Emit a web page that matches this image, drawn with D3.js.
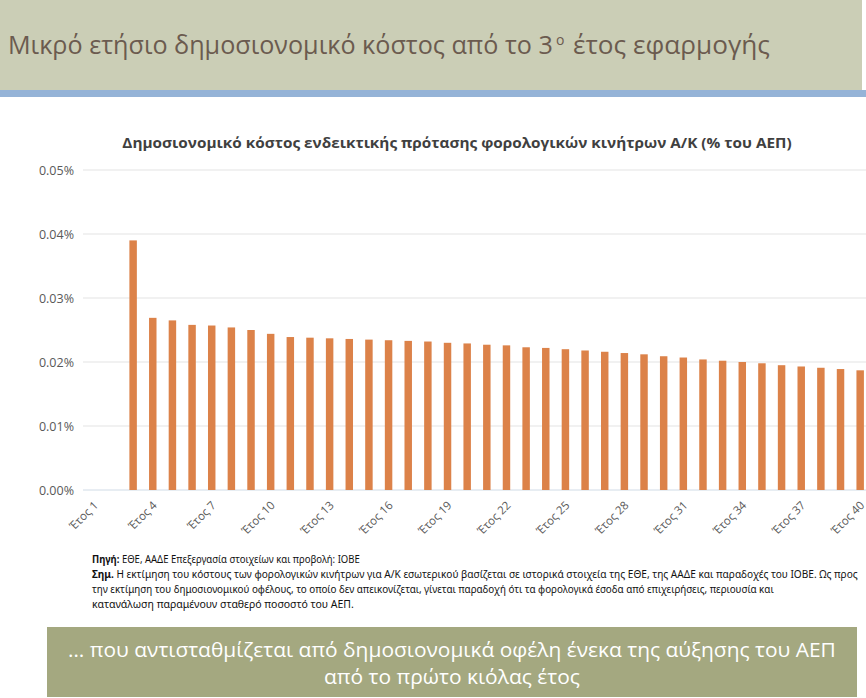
<!DOCTYPE html>
<html><head><meta charset="utf-8">
<script src="https://cdn.jsdelivr.net/npm/d3@7"></script>
<style>body{margin:0;background:#fff;overflow:hidden}svg{display:block}</style>
</head><body>
<svg id="c" width="866" height="698"></svg>
<script>
const years = d3.range(1, 41);
const categories = years.map(y => "Έτος " + y);
const values = [0, 0, 0.0390, 0.0269, 0.0265, 0.0258, 0.0257, 0.0254, 0.0250, 0.0244,
  0.0239, 0.0238, 0.0237, 0.0236, 0.0235, 0.0234, 0.0233, 0.0232, 0.0230, 0.0229,
  0.0227, 0.0226, 0.0223, 0.0222, 0.0220, 0.0218, 0.0216, 0.0214, 0.0212, 0.0209,
  0.0207, 0.0204, 0.0202, 0.0200, 0.0198, 0.0195, 0.0193, 0.0191, 0.0189, 0.0187];
const yTicks = [0, 0.01, 0.02, 0.03, 0.04, 0.05];
const labelEvery = 3;

const svg = d3.select("#c");

// horizontally fit a text to a target width (scales around its x anchor)
function fit(sel, target) {
  const w = sel.node().getComputedTextLength();
  const x0 = +sel.attr("x");
  const k = target / w;
  sel.attr("transform", `translate(${x0},0) scale(${k},1) translate(${-x0},0)`);
  return sel;
}

// header
svg.append("rect").attr("x",0).attr("y",0).attr("width",862).attr("height",90).attr("fill","#cbceb6");
svg.append("rect").attr("x",0).attr("y",90).attr("width",866).attr("height",7).attr("fill","#95b3d7");
const hg = svg.append("g").attr("font-family","'Open Sans', 'Noto Sans', sans-serif").attr("fill","#6b5b4f");
fit(hg.append("text").attr("x",8).attr("y",54).attr("font-size",26)
  .text("Μικρό ετήσιο δημοσιονομικό κόστος από το 3"), 545);
hg.append("text").attr("x",556).attr("y",45).attr("font-size",14).text("ο");
fit(hg.append("text").attr("x",573).attr("y",54).attr("font-size",26)
  .text("έτος εφαρμογής"), 197);

// chart title
fit(svg.append("text").attr("x",457).attr("y",148).attr("text-anchor","middle")
  .attr("font-family","'Open Sans', sans-serif").attr("font-weight","bold").attr("font-size",14.5)
  .attr("fill","#404040")
  .text("Δημοσιονομικό κόστος ενδεικτικής πρότασης φορολογικών κινήτρων Α/Κ (% του ΑΕΠ)"), 670);

const x = d3.scaleBand().domain(categories).range([84, 870]).paddingInner(0.62).paddingOuter(0.31);
const y = d3.scaleLinear().domain([0, 0.05]).range([490, 170]);

// gridlines
svg.append("g").selectAll("line").data(yTicks).join("line")
  .attr("x1",83).attr("x2",866).attr("y1",d=>y(d)).attr("y2",d=>y(d))
  .attr("stroke",(d)=> d===0 ? "#d0dbe6" : "#e3e3e3").attr("stroke-width",1);

// y axis
const yAxis = svg.append("g").attr("transform","translate(74,0)")
  .call(d3.axisLeft(y).tickValues(yTicks).tickFormat(d => d.toFixed(2) + "%").tickSize(0).tickPadding(0));
yAxis.select(".domain").remove();
yAxis.selectAll("text").attr("font-family","'Open Sans', sans-serif").attr("font-size",12.5).attr("fill","#595959");

// bars
svg.append("g").selectAll("rect").data(values).join("rect")
  .attr("x",(d,i)=>x(categories[i])).attr("width",x.bandwidth())
  .attr("y",d=>y(d)).attr("height",d=>y(0)-y(d)).attr("fill","#dc8249");

// x axis
const xAxis = svg.append("g").attr("transform","translate(0,490)")
  .call(d3.axisBottom(x).tickValues(categories.filter((c,i)=> i % labelEvery === 0)).tickSize(0).tickPadding(0));
xAxis.select(".domain").remove();
xAxis.selectAll("text").attr("font-family","'Open Sans', sans-serif").attr("font-size",11.5).attr("fill","#595959")
  .attr("text-anchor","end").attr("dy",0).attr("y",0)
  .attr("transform","translate(5,16) rotate(-45)");

// footnote
const fn = svg.append("g").attr("font-family","'Liberation Sans Narrow', 'Noto Sans', sans-serif").attr("font-size",10.5).attr("fill","#111");
const f1 = fn.append("text").attr("x",92).attr("y",563);
f1.append("tspan").attr("font-weight","bold").text("Πηγή:");
f1.append("tspan").text(" ΕΘΕ, ΑΑΔΕ Επεξεργασία στοιχείων και προβολή: ΙΟΒΕ");
fit(f1, 268);
const f2 = fn.append("text").attr("x",92).attr("y",578);
f2.append("tspan").attr("font-weight","bold").text("Σημ.");
f2.append("tspan").text(" Η εκτίμηση του κόστους των φορολογικών κινήτρων για Α/Κ εσωτερικού βασίζεται σε ιστορικά στοιχεία της ΕΘΕ, της ΑΑΔΕ και παραδοχές του ΙΟΒΕ. Ως προς");
fit(f2, 766);
fit(fn.append("text").attr("x",92).attr("y",593)
  .text("την εκτίμηση του δημοσιονομικού οφέλους, το οποίο δεν απεικονίζεται, γίνεται παραδοχή ότι τα φορολογικά έσοδα από επιχειρήσεις, περιουσία και"), 683);
fit(fn.append("text").attr("x",92).attr("y",608)
  .text("κατανάλωση παραμένουν σταθερό ποσοστό του ΑΕΠ."), 262);

// bottom box
svg.append("rect").attr("x",47).attr("y",627).attr("width",810).attr("height",70).attr("fill","#a4a880");
const bt = svg.append("g").attr("font-family","'Open Sans', 'Noto Sans', sans-serif").attr("font-size",20).attr("fill","#fff").attr("text-anchor","middle");
fit(bt.append("text").attr("x",452).attr("y",657)
  .text("… που αντισταθμίζεται από δημοσιονομικά οφέλη ένεκα της αύξησης του ΑΕΠ"), 768);
fit(bt.append("text").attr("x",452).attr("y",684)
  .text("από το πρώτο κιόλας έτος"), 256);
</script>
</body></html>
